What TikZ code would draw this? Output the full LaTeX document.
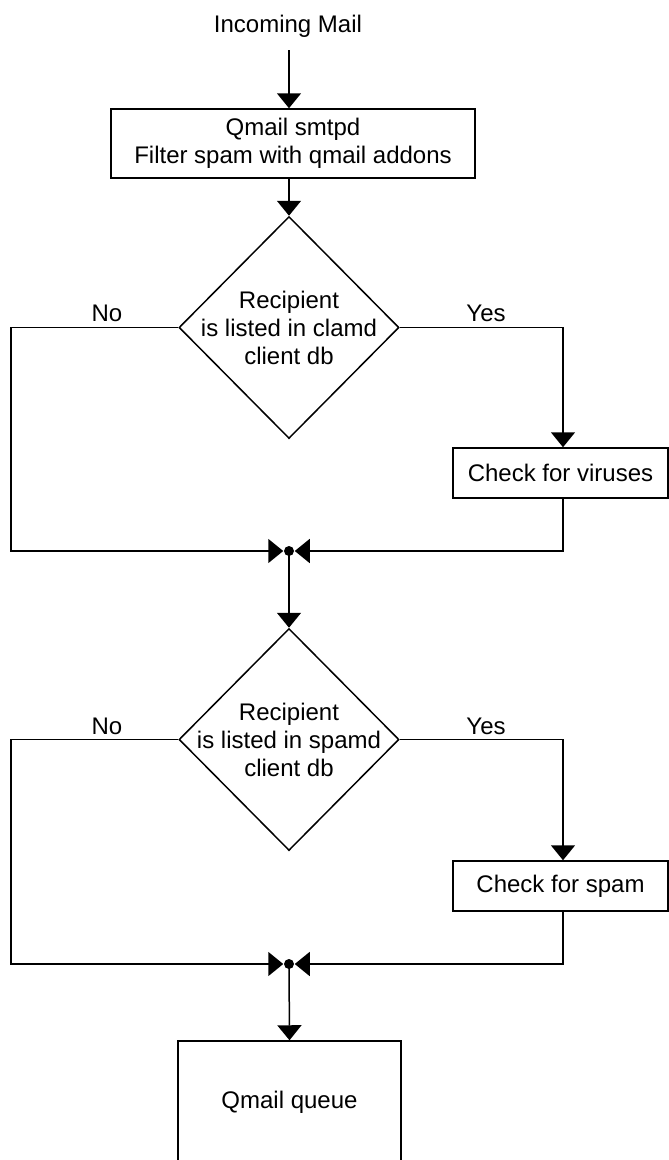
\documentclass[tikz,border=0pt]{standalone}
\usepackage{fontspec}
\setmainfont{Liberation Sans}
\usetikzlibrary{shapes.geometric,arrows.meta}
\begin{document}
\begin{tikzpicture}[x=1pt,y=-1pt,
  line width=1.5pt,
  font=\fontsize{24}{28}\selectfont,
  arr/.style={-{Triangle[length=15pt,width=24pt]}},
  box/.style={draw, rectangle, inner sep=0pt, align=center},
  dia/.style={draw, diamond, inner sep=0pt, minimum width=220pt, minimum height=222pt},
  txt/.style={inner sep=0pt, align=center},
  dot/.style={circle, fill, inner sep=0pt, minimum size=10pt}]
\clip (0,0) rectangle (669,1160);
% top
\node[txt] (in) at (288,26) {Incoming Mail};
\coordinate (inS) at (289,50);
\node[box, minimum width=364pt, minimum height=69pt] (smtpd) at (293,143.5) {Qmail smtpd\\Filter spam with qmail addons};
\draw[arr] (inS) -- (inS |- smtpd.north);
% decision 1
\node[dia] (d1) at (289,327.5) {};
\node[txt] (d1t) at (d1.center) {Recipient\\is listed in clamd\\client db};
\draw[arr] (inS |- smtpd.south) -- (d1.north);
\node[txt] (no1) at (107,313) {No};
\node[txt] (yes1) at (486,313) {Yes};
\node[box, minimum width=215pt, minimum height=50pt] (vir) at (560.5,473) {Check for viruses};
\node[dot] (j1) at (289,551) {};
\coordinate (n1) at (11,327.5);
\coordinate (y1) at (563,327.5);
\draw[arr] (d1.west) -- (n1) |- (j1.west);
\draw[arr] (d1.east) -- (y1) -- (y1 |- vir.north);
\draw[arr] (y1 |- vir.south) |- (j1.east);
% decision 2
\node[dia] (d2) at (289,739.5) {};
\node[txt] (d2t) at (d2.center) {Recipient\\is listed in spamd\\client db};
\draw[arr] (j1.center) -- (d2.north);
\node[txt] (no2) at (107,726) {No};
\node[txt] (yes2) at (486,726) {Yes};
\node[box, minimum width=215pt, minimum height=50pt] (spam) at (560.5,886) {Check for spam};
\node[dot] (j2) at (289,964) {};
\coordinate (n2) at (11,739.5);
\coordinate (y2) at (563,739.5);
\draw[arr] (d2.west) -- (n2) |- (j2.west);
\draw[arr] (d2.east) -- (y2) -- (y2 |- spam.north);
\draw[arr] (y2 |- spam.south) |- (j2.east);
% queue
\node[box, minimum width=223pt, minimum height=122pt] (queue) at (289.5,1102) {Qmail queue};
\draw[arr] (j2.center) -- (queue.north);
\end{tikzpicture}
\end{document}
